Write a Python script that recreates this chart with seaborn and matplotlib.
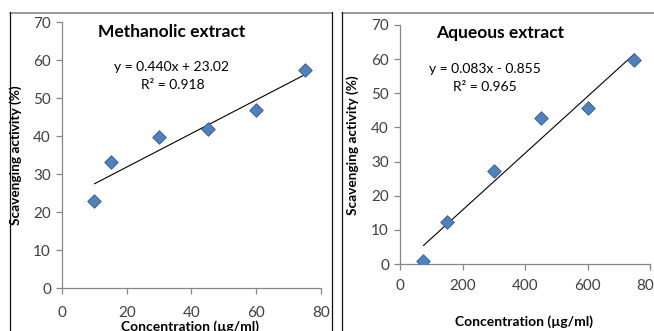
import matplotlib
matplotlib.use('Agg')
import matplotlib.pyplot as plt
from matplotlib.lines import Line2D
import seaborn as sns

# Data
meth_conc = [10, 15, 30, 45, 60, 75]
meth_scav = [22.8, 33.2, 39.7, 41.9, 46.8, 57.4]
aq_conc = [75, 150, 300, 450, 600, 750]
aq_scav = [0.8, 12.3, 27.2, 42.7, 45.6, 59.7]

sns.set_style('ticks')
plt.rcParams['font.family'] = ['Lato', 'DejaVu Sans']

W, H = 654, 331
fig = plt.figure(figsize=(W / 100, H / 100), dpi=100)
fig.patch.set_facecolor('white')


def px_axes(x0, y_top, x1, y_bot):
    return fig.add_axes([x0 / W, (H - y_bot) / H, (x1 - x0) / W, (y_bot - y_top) / H])


def px_text(x, y, s, **kw):
    fig.text(x / W, (H - y) / H, s, ha='center', va='center', **kw)


def px_line(xs, ys, **kw):
    fig.add_artist(Line2D([x / W for x in xs], [(H - y) / H for y in ys], **kw))


# panel borders: grey tops, dark sides
px_line([9.5, 331.5], [12.5, 12.5], color='#888888', lw=1.2)
px_line([341.5, 654], [12.5, 12.5], color='#888888', lw=1.2)
for x in [9.5, 331.5, 341.5]:
    px_line([x, x], [12, 331], color='#111111', lw=0.9)

grey = '#868686'
tick_col = '#404040'


def draw(ax, x, y, xmax, xstep, xpad):
    sns.regplot(x=x, y=y, ax=ax, ci=None, marker='D', truncate=True,
                scatter_kws=dict(s=48, color='#4F81BD', edgecolor='#385D8A',
                                 linewidths=0.6, zorder=3, alpha=1),
                line_kws=dict(color='black', lw=0.8, zorder=2))
    ax.set_xlim(0, xmax)
    ax.set_ylim(0, 70)
    ax.set_xticks(range(0, xmax + 1, xstep))
    ax.set_yticks(range(0, 71, 10))
    ax.set_xlabel('')
    ax.set_ylabel('')
    sns.despine(ax=ax)
    for sp in ['left', 'bottom']:
        ax.spines[sp].set_color(grey)
        ax.spines[sp].set_linewidth(0.9)
    ax.tick_params(axis='both', colors=grey, labelcolor=tick_col, labelsize=11,
                   length=4, width=0.9, direction='out')
    ax.tick_params(axis='x', pad=9 if xpad is None else xpad)
    ax.tick_params(axis='y', pad=4)
    ax.set_facecolor('white')


ax1 = px_axes(62, 22, 321, 288)
draw(ax1, meth_conc, meth_scav, 80, 20, 9)
ax2 = px_axes(400, 25, 650, 264)
draw(ax2, aq_conc, aq_scav, 800, 200, 7)
ax2.set_xticklabels(['0', '200', '400', '600', '800'])

# titles
px_text(172, 32, 'Methanolic extract', fontsize=12.5, fontweight='bold', color='black')
px_text(500, 33, 'Aqueous extract', fontsize=12.5, fontweight='bold', color='black')

# trendline equations
px_text(172, 67, 'y = 0.440x + 23.02', fontsize=10, color='black')
px_text(173, 85, 'R² = 0.918', fontsize=10, color='black')
px_text(485, 69, 'y = 0.083x - 0.855', fontsize=10, color='black')
px_text(485, 87, 'R² = 0.965', fontsize=10, color='black')

# axis labels
px_text(16, 155, 'Scavenging activity (%)', fontsize=9.8, fontweight='bold',
        rotation=90, color='black')
px_text(353, 145, 'Scavenging activity (%)', fontsize=9.8, fontweight='bold',
        rotation=90, color='black')
px_text(190, 327, 'Concentration (µg/ml)', fontsize=10, fontweight='bold', color='black')
px_text(524, 322, 'Concentration (µg/ml)', fontsize=10, fontweight='bold', color='black')

fig.savefig('out.png', dpi=100, facecolor='white')
